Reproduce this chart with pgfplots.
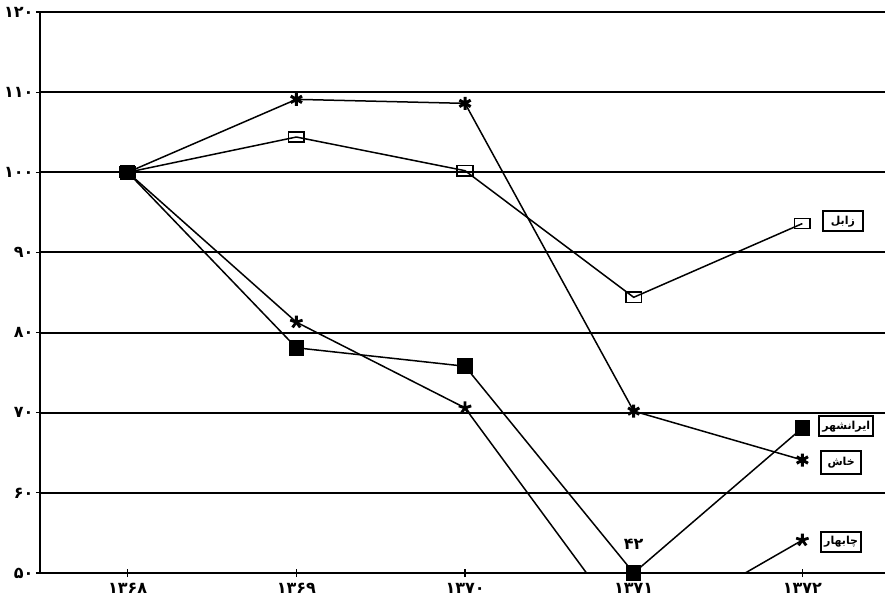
\documentclass[border=0pt]{standalone}
\usepackage{fontspec}
\setmainfont{DejaVu Sans}
\usepackage{pgfplots}
\pgfplotsset{compat=1.18}
\newfontfamily\arabicfont[Script=Arabic]{DejaVu Sans}
\TeXXeTstate=1
\begin{document}
\begin{tikzpicture}
\useasboundingbox (-40pt,-30pt) rectangle (845pt,573pt);
\begin{axis}[at={(0,0)}, anchor=south west, scale only axis,
  width=845pt, height=561pt,
  xmin=-0.52, xmax=4.49, ymin=50, ymax=120,
  axis x line=bottom, axis y line=left,
  axis line style={line width=1.8pt,-},
  xtick={0,...,4},
  xticklabels={۱۳۶۸,۱۳۶۹,۱۳۷۰,۱۳۷۱,۱۳۷۲},
  ytick={50,60,...,120},
  yticklabels={۵۰,۶۰,۷۰,۸۰,۹۰,۱۰۰,۱۱۰,۱۲۰},
  ymajorgrids, major grid style={black, line width=2pt},
  extra y ticks={100}, extra y tick labels={},
  extra y tick style={grid style={black, line width=3.2pt}},
  tick style={black, line width=1.2pt}, major tick length=8pt, tick align=center,
  ticklabel style={font=\arabicfont\bfseries\fontsize{16}{17}\selectfont},
  x tick label style={anchor=base, yshift=-16pt},
  y tick label style={xshift=1pt},
  clip mode=individual,
]
\addplot[black, line width=1.5pt, mark=square, mark size=6pt,
  mark options={solid, fill=white, line width=1.6pt, xscale=1.3, yscale=0.85}]
  coordinates {(0,100)(1,104.4)(2,100.2)(3,84.4)(4,93.6)};
\addplot[black, line width=1.5pt, mark=asterisk, mark size=6.5pt,
  mark options={line width=3pt}]
  coordinates {(0,100)(1,109.1)(2,108.6)(3,70.2)(4,64.1)};
\addplot[black, line width=1.5pt, no marks]
  coordinates {(0,100)(1,81.3)(2,70.6)(3,42)(4,54.1)};
\addplot[black, only marks, mark=star, mark size=6.5pt,
  mark options={line width=2.8pt}]
  coordinates {(0,100)(1,81.3)(2,70.6)(4,54.1)};
\addplot[black, line width=1.5pt, mark=square*, mark size=7pt,
  mark options={rounded corners=2pt}]
  coordinates {(0,100)(1,78.1)(2,75.8)(3,50)(4,68.1)};
\node[font=\arabicfont\bfseries\fontsize{16}{17}\selectfont] at (axis cs:3,53.6) {۴۲};
\tikzset{lab/.style={draw, line width=1.8pt, fill=white, minimum width=40pt, minimum height=20pt, inner sep=1pt, font=\arabicfont\bfseries\fontsize{11}{12}\selectfont}}
\node[lab] at (axis cs:4.24,93.9) {\beginR زابل\endR};
\node[lab, minimum width=54pt] at (axis cs:4.26,68.3) {\beginR ایرانشهر\endR};
\node[lab, minimum height=23pt] at (axis cs:4.23,63.8) {\beginR خاش\endR};
\node[lab] at (axis cs:4.23,53.9) {\beginR چابهار\endR};
\end{axis}
\end{tikzpicture}
\end{document}
